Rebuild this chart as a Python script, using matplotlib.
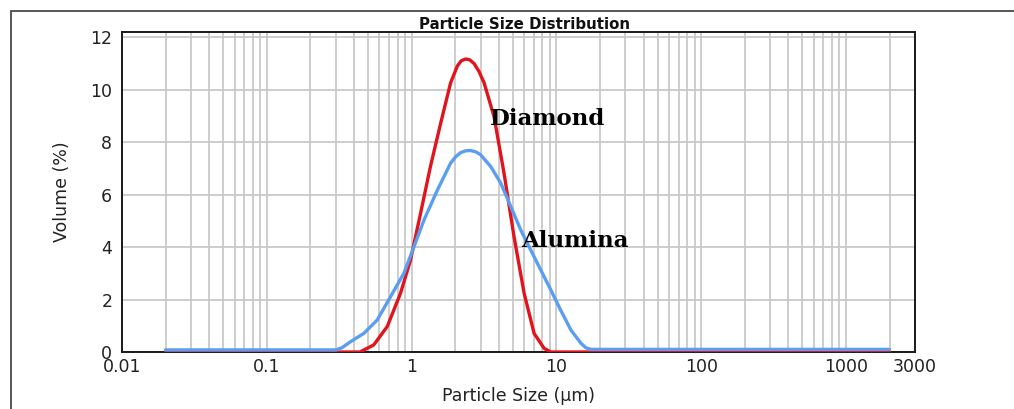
import matplotlib
matplotlib.use("Agg")
import matplotlib.pyplot as plt
from matplotlib.patches import Rectangle
from matplotlib.ticker import FixedLocator, LogLocator, NullFormatter

# Particle size (µm) and volume (%) for each powder
diamond_size = [0.02, 0.1, 0.3, 0.44, 0.548, 0.679, 0.839, 0.984, 1.154, 1.35, 1.59,
                1.86, 2.07, 2.20, 2.36, 2.52, 2.70, 2.92, 3.17, 3.71, 4.35, 5.10,
                5.99, 7.02, 8.23, 9.15, 20, 100, 2000]
diamond_vol = [0.0, 0.0, 0.0, 0.0, 0.27, 0.97, 2.24, 3.51, 5.29, 7.07, 8.73,
               10.26, 10.90, 11.10, 11.17, 11.14, 11.00, 10.70, 10.26, 8.98, 6.82, 4.40,
               2.24, 0.71, 0.14, 0.0, 0.0, 0.0, 0.0]

alumina_size = [0.02, 0.1, 0.30, 0.33, 0.378, 0.468, 0.579, 0.716, 0.885, 1.04, 1.22,
                1.51, 1.86, 2.02, 2.18, 2.36, 2.56, 2.78, 3.0, 3.52, 4.13, 4.84,
                5.67, 6.65, 7.8, 9.15, 10.7, 12.6, 14.8, 16.0, 17.3, 100, 2000]
alumina_vol = [0.08, 0.08, 0.08, 0.16, 0.39, 0.71, 1.22, 2.11, 3.0, 4.02, 5.04,
               6.18, 7.2, 7.45, 7.60, 7.67, 7.68, 7.63, 7.52, 7.07, 6.44, 5.55,
               4.66, 3.89, 3.13, 2.37, 1.60, 0.84, 0.33, 0.16, 0.10, 0.10, 0.10]

x_ticks = [0.01, 0.1, 1, 10, 100, 1000, 3000]
x_tick_labels = ["0.01", "0.1", "1", "10", "100", "1000", "3000"]
y_ticks = [0, 2, 4, 6, 8, 10, 12]

W, H = 1014, 409
fig = plt.figure(figsize=(W / 100, H / 100), dpi=100)
fig.patch.set_facecolor("white")

# Outer frame around the whole chart
fig.patches.append(Rectangle((11 / W, -0.05), 1.1, 1 - 11 / H + 0.05,
                             transform=fig.transFigure, fill=False,
                             edgecolor="#4a4a4a", linewidth=1.3))

ax = fig.add_axes([122 / W, (H - 352) / H, 793 / W, 320 / H])
ax.set_xscale("log")
ax.set_xlim(0.01, 3000)
ax.set_ylim(0, 12.2)

ax.xaxis.set_major_locator(FixedLocator(x_ticks))
ax.set_xticklabels(x_tick_labels)
ax.xaxis.set_minor_locator(LogLocator(base=10, subs=range(2, 10), numticks=20))
ax.xaxis.set_minor_formatter(NullFormatter())
ax.set_yticks(y_ticks)

grid_color = "#c9c9c9"
ax.grid(True, which="major", axis="both", color=grid_color, linewidth=1.3, zorder=0)
ax.grid(True, which="minor", axis="x", color=grid_color, linewidth=1.3, zorder=0)
ax.set_axisbelow(True)

ax.tick_params(axis="both", which="both", length=0, labelsize=12.5, colors="#222222")
ax.tick_params(axis="x", pad=4)
ax.tick_params(axis="y", pad=7)

for s in ax.spines.values():
    s.set_color("#1a1a1a")
    s.set_linewidth(1.4)

ax.plot(diamond_size, diamond_vol, color="#e0141c", linewidth=2.4, zorder=3,
        solid_capstyle="round", solid_joinstyle="round")
ax.plot(alumina_size, alumina_vol, color="#5a9ef2", linewidth=2.4, zorder=4,
        solid_capstyle="round", solid_joinstyle="round")

ax.set_title("Particle Size Distribution", fontsize=10.8, fontweight="bold",
             pad=0.5, x=0.508, color="#111111")
ax.set_xlabel("Particle Size (µm)", fontsize=12.5, color="#222222", labelpad=8)
ax.set_ylabel("Volume (%)", fontsize=12.5, color="#222222", labelpad=14)

ax.text(3.5, 8.9, "Diamond", fontsize=16.5, fontweight="bold", family="DejaVu Serif",
        va="center", ha="left", color="black", zorder=5)
ax.text(5.7, 4.25, "Alumina", fontsize=16.5, fontweight="bold", family="DejaVu Serif",
        va="center", ha="left", color="black", zorder=5)

fig.savefig("out.png", dpi=100, facecolor="white")
